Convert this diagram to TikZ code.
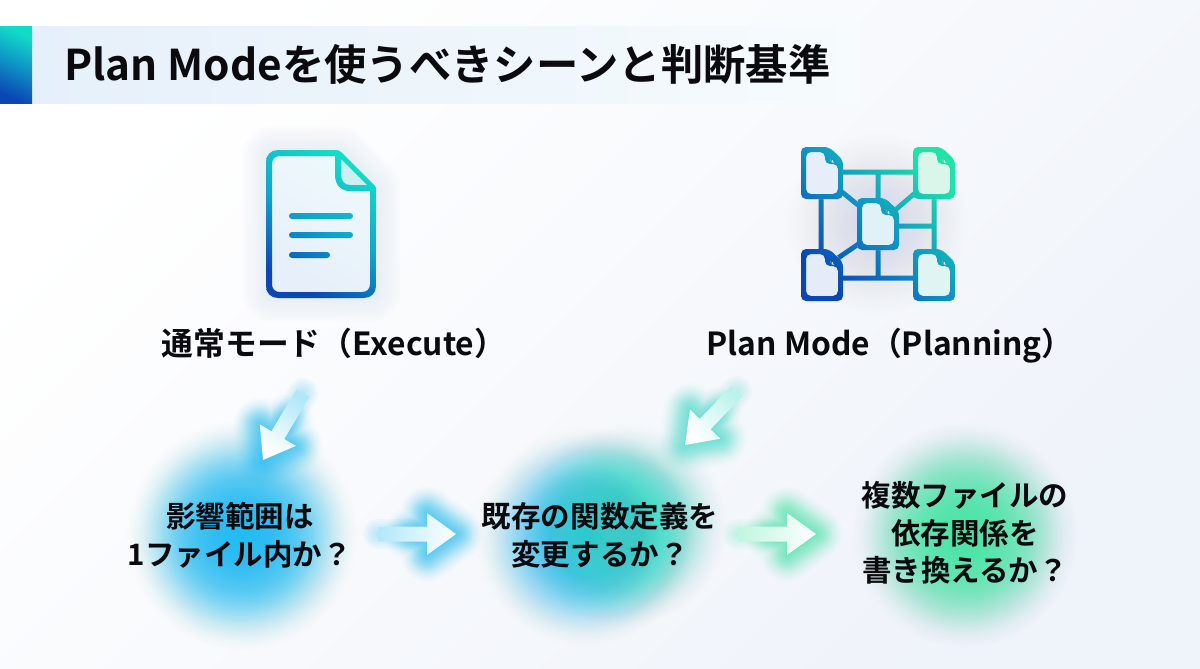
\documentclass[tikz,border=0pt]{standalone}
\usepackage{fontspec}
\setmainfont{Noto Sans CJK JP}[BoldFont={Noto Sans CJK JP Bold}]
\usetikzlibrary{calc,shadings}
\definecolor{inktext}{HTML}{0A0A0F}
\definecolor{bgend}{HTML}{EFF3FA}
\definecolor{bgmid}{HTML}{F9FBFE}
\definecolor{gblue}{HTML}{0A46B4}
\definecolor{gmid}{HTML}{0F92C6}
\definecolor{dmid}{HTML}{10A4D2}
\definecolor{gteal}{HTML}{10DCC8}
\definecolor{ggreen}{HTML}{1EE4A8}
\definecolor{bluecy}{HTML}{1CBCF2}
\definecolor{tealcy}{HTML}{3CDCC8}
\definecolor{mintg}{HTML}{46E4A8}
\newcommand\hexcol[1]{\definecolor{#1}{HTML}{#1}}
\hexcol{E6F0FA}\hexcol{EDF7FC}\hexcol{F6FBFD}\hexcol{99C4EC}\hexcol{EEF9FB}\hexcol{E6EFFA}\hexcol{CDEFEF}
\hexcol{E6EEFA}\hexcol{D8F6EA}\hexcol{E4ECF8}\hexcol{E0F4F4}\hexcol{E0F2F8}
\tikzset{
  titletext/.style={font=\fontsize{24.1}{29}\selectfont\bfseries,text=inktext,anchor=west,inner sep=0},
  labeltext/.style={font=\fontsize{18.1}{22}\selectfont\bfseries,text=inktext,inner sep=0,anchor=base},
  asktext/.style={font=\fontsize{16.8}{21.4}\selectfont\bfseries,text=inktext,align=center,inner sep=0},
}
% soft round glow: x, y, radius, colour, opacity of one layer
\newcommand\glowblob[5]{%
  \foreach \i in {1,...,50}{
    \pgfmathsetmacro\rr{#3*(1-\i/51)}
    \pgfmathsetmacro\oo{#5*min(1,\i/20)}
    \fill[#4,opacity=\oo] (#1,#2) circle (\rr);
  }
}
% block arrow with soft glow: tail, tip, glow colour, shading angle
\newcommand\blockarrow[4]{%
  \coordinate (gs) at ($(#1)!.42!(#2)$);
  \foreach \w/\o in {1.06/.02,.98/.03,.90/.04,.82/.05,.74/.06,.66/.07,.59/.08,.52/.08,.46/.08,.40/.08,.34/.08,.28/.08,.22/.08,.16/.08,.10/.08,.05/.08}{
    \draw[#3,opacity=\o,line width=\w cm,line join=round]
      (gs) -- ($(#2)!.58cm!(#1)!.15cm!90:(#1)$) -- ($(#2)!.58cm!(#1)!.42cm!90:(#1)$) -- (#2)
      -- ($(#2)!.58cm!(#1)!.42cm!-90:(#1)$) -- ($(#2)!.58cm!(#1)!.15cm!-90:(#1)$) -- cycle;
  }
  \foreach \w in {0.6,0.5,0.4,0.3,0.2,0.1}{
    \draw[#3,opacity=.05,line width=\w cm,line cap=round] (#1) -- (gs);
  }
  \shade[top color=white,bottom color=#3!35!white,shading angle=#4]
    ($(#1)!.15cm!90:(#2)$) -- ($(#2)!.58cm!(#1)!.15cm!-90:(#1)$) -- ($(#2)!.58cm!(#1)!.42cm!-90:(#1)$)
    -- (#2) -- ($(#2)!.58cm!(#1)!.42cm!90:(#1)$) -- ($(#2)!.58cm!(#1)!.15cm!90:(#1)$)
    -- ($(#1)!.15cm!-90:(#2)$) -- cycle;
}
% icon gradients
\newcommand\netshade{\shade[top color=ggreen,bottom color=gblue,middle color=gmid,shading angle=-45] (801,147) rectangle (955,301);}
\newcommand\docshade{\shade[top color=gteal,bottom color=gblue,middle color=dmid,shading angle=-30] (266,150) rectangle (376,298);}
% small document: x, y of the top left corner, page colour
\newcommand\minidoc[3]{%
  \fill[#3,rounded corners=.12cm] (#1,#2) -- ++(29,0) -- ++(12,12) -- ++(0,40) -- ++(-41,0) -- cycle;
  \begin{scope}[even odd rule]
    \clip[rounded corners=.1cm]
      (#1,#2) -- ++(28,0) -- ++(14,13) -- ++(0,39) -- ++(-42,0) -- cycle
      (#1+5,#2+5) -- ++(19,0) -- ++(0,12) -- ++(13,0) -- ++(0,30) -- ++(-32,0) -- cycle
      (#1+29,#2+10) -- ++(0,6) -- ++(6,0) -- cycle;
    \netshade
  \end{scope}
}
\begin{document}
\begin{tikzpicture}[x=.02cm,y=-.02cm]
\useasboundingbox (0,0) rectangle (1200,669);
% background
\shade[top color=white,middle color=bgmid,bottom color=bgend,shading angle=45] (0,0) rectangle (1200,669);
% title band
\shade[left color=E6F0FA,middle color=EDF7FC,right color=F6FBFD] (32,27) rectangle (860,104);
\shade[top color=gteal,bottom color=gblue,middle color=gmid,shading angle=-25] (0,27) rectangle (32,104);
\node[titletext] (title) at (64,64) {Plan Modeを使うべきシーンと判断基準};
% glows of the question areas
\glowblob{242}{535}{118}{bluecy}{.07}
\glowblob{585}{537}{112}{bluecy}{.055}
\glowblob{625}{525}{104}{tealcy}{.055}
\glowblob{965}{535}{115}{mintg}{.07}
% document icon
\foreach \w in {1.2,1.1,1.0,.9,.8,.7,.6,.5,.4,.3,.2,.1}{
  \draw[99C4EC,opacity=.018,line width=\w cm,line join=round] (272,156) -- (338,156) -- (370,188) -- (370,292) -- (272,292) -- cycle;
}
\shade[top color=EEF9FB,bottom color=E6EFFA,shading angle=-30,rounded corners=.3cm] (266,150) -- (340,150) -- (376,187) -- (376,298) -- (266,298) -- cycle;
\fill[CDEFEF] (341,156) -- (370,186) -- (341,186) -- cycle;
\begin{scope}[even odd rule]
  \clip
    (278,150) -- (336,150) .. controls (338,150) and (340,151) .. (341,152) -- (375,186) .. controls (376,187) and (376,188) .. (376,190) -- (376,286) .. controls (376,293) and (371,298) .. (364,298) -- (278,298) .. controls (271,298) and (266,293) .. (266,286) -- (266,162) .. controls (266,155) and (271,150) .. (278,150) -- cycle
    (280,156) -- (335,156) -- (335,175) .. controls (335,185) and (341,191) .. (350,191) -- (370,191) -- (370,284) .. controls (370,289) and (367,292) .. (362,292) -- (280,292) .. controls (275,292) and (272,289) .. (272,284) -- (272,164) .. controls (272,159) and (275,156) .. (280,156) -- cycle
    (341,159) -- (341,175) .. controls (341,181) and (345,185) .. (350,185) -- (367,185) -- cycle;
  \docshade
\end{scope}
\begin{scope}
  \clip[rounded corners=.06cm]
    (289,213) rectangle (353,219)
    (289,232) rectangle (353,238)
    (289,252) rectangle (330,258);
  \docshade
\end{scope}
\node[labeltext] (execlabel) at (334,355) {通常モード（Execute）};
% network icon
\glowblob{878}{224}{125}{99C4EC}{.003}
\begin{scope}
  \clip (842,169.5) rectangle (913,174.5)
        (842,275.5) rectangle (913,280.5)
        (875.5,172) rectangle (880.5,198)
        (875.5,250) rectangle (880.5,278)
        (818.5,199) rectangle (823.5,249)
        (931.5,199) rectangle (936.5,249)
        (899,223.5) rectangle (934,228.5)
        (840.4,193.9) -- (843.6,190.1) -- (859.6,203.1) -- (856.4,206.9) -- cycle
        (913.4,191.2) -- (916.6,194.8) -- (894.6,213.8) -- (891.4,210.2) -- cycle
        (836.4,256.1) -- (839.6,259.9) -- (861.6,244.9) -- (858.4,241.1) -- cycle;
  \netshade
\end{scope}
\minidoc{801}{147}{E6EEFA}
\minidoc{913}{147}{D8F6EA}
\minidoc{801}{249}{E4ECF8}
\minidoc{913}{249}{E0F4F4}
\minidoc{857}{198}{E0F2F8}
\node[labeltext] (planlabel) at (890,355) {Plan Mode（Planning）};
% block arrows
\coordinate (a1s) at (303,393); \coordinate (a1e) at (263,460);
\coordinate (a2s) at (378,534); \coordinate (a2e) at (456,534);
\coordinate (a3s) at (737,391); \coordinate (a3e) at (685,445);
\coordinate (a4s) at (738,534); \coordinate (a4e) at (816,534);
\blockarrow{a1s}{a1e}{bluecy}{149}
\blockarrow{a2s}{a2e}{bluecy}{-90}
\blockarrow{a3s}{a3e}{tealcy}{136}
\blockarrow{a4s}{a4e}{mintg}{-90}
% questions
\node[asktext] (q1) at (240,535) {影響範囲は\\1ファイル内か？};
\node[asktext] (q2) at (600,535) {既存の関数定義を\\変更するか？};
\node[asktext] (q3) at (965,533) {複数ファイルの\\依存関係を\\書き換えるか？};
\end{tikzpicture}
\end{document}
